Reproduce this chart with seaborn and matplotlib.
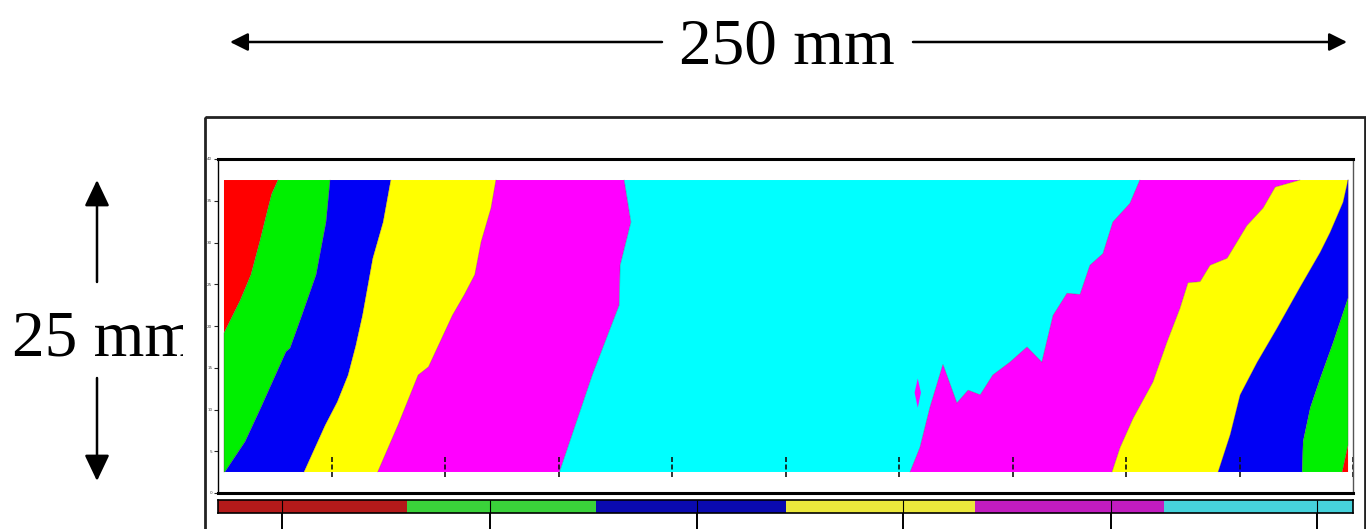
import numpy as np
import matplotlib
matplotlib.use('Agg')
import matplotlib.pyplot as plt
import seaborn as sns
from matplotlib.colors import ListedColormap
from matplotlib.transforms import Bbox

# Plate is 250 mm x 25 mm. Each boundary traced from top (y=25) down to bottom (y=0), in mm.
edge_left_x = [0.0, 0.0]
edge_left_y = [25.0, 0.0]

b1_x = [12.0, 10.6, 9.8, 8.0, 6.0, 3.6, 0.0, 0.0]            # red / green
b1_y = [25.0, 23.8, 22.6, 19.8, 16.9, 14.7, 11.9, 0.0]

b2_x = [23.6, 22.7, 20.5, 17.5, 14.7, 13.8, 11.0, 8.2, 4.7, 0.2]   # green / blue
b2_y = [25.0, 21.4, 16.9, 13.6, 10.6, 10.3, 7.9, 5.5, 2.6, 0.0]

b3_x = [37.1, 35.4, 33.1, 30.8, 29.3, 27.6, 25.2, 22.5, 17.8]      # blue / yellow
b3_y = [25.0, 21.4, 18.3, 13.4, 10.8, 8.3, 6.0, 4.0, 0.0]

b4_x = [60.5, 59.4, 57.2, 55.8, 53.5, 50.8, 45.5, 43.2, 38.7, 34.2]   # yellow / magenta
b4_y = [25.0, 22.6, 19.7, 16.9, 15.2, 13.4, 9.0, 8.3, 4.0, 0.0]

b5_x = [89.0, 90.5, 88.1, 87.9, 84.8, 81.9, 74.6]       # magenta / cyan
b5_y = [25.0, 21.4, 17.7, 14.3, 11.2, 8.3, 0.0]

b6_x = [203.7, 201.5, 197.7, 195.5, 192.6, 190.4, 187.5, 184.4, 181.9, 178.6,
        174.8, 171.0, 168.2, 165.5, 163.0, 159.9, 157.0, 154.8, 152.6]   # cyan / magenta
b6_y = [25.0, 23.0, 21.4, 18.7, 17.7, 15.2, 15.3, 13.4, 9.4, 10.7,
        9.4, 8.3, 6.6, 7.0, 5.9, 9.2, 5.5, 2.1, 0.0]

b7_x = [239.3, 233.8, 231.1, 227.5, 223.1, 219.3, 217.1, 214.4, 212.6, 209.7,
        206.6, 202.2, 199.3, 197.5]               # magenta / yellow
b7_y = [25.0, 24.4, 22.6, 21.1, 18.3, 17.7, 16.3, 16.2, 14.0, 11.1,
        7.7, 4.6, 2.1, 0.0]

b8_x = [250.0, 248.9, 246.0, 243.8, 239.3, 234.2, 229.8, 226.0, 223.8, 221.1]   # yellow / blue
b8_y = [25.0, 23.1, 20.5, 18.8, 15.8, 12.3, 9.4, 6.6, 3.2, 0.0]

b9_x = [250.0, 250.0, 246.7, 243.8, 241.6, 240.0, 239.8]   # blue / green
b9_y = [25.0, 14.9, 11.1, 8.0, 5.5, 2.6, 0.0]

b10_x = [250.0, 250.0, 248.7]                      # green / red
b10_y = [25.0, 2.3, 0.0]

edge_right_x = [250.0, 250.0]
edge_right_y = [25.0, 0.0]

# small magenta island inside the cyan grain
island_x = [154.3, 155.0, 154.3, 153.6]
island_y = [8.0, 6.8, 5.5, 6.8]

field_colors = ['#ff0000', '#00f000', '#0000f5', '#ffff00', '#ff00ff', '#00ffff',
                '#ff00ff', '#ffff00', '#0000f5', '#00f000', '#ff0000']

# colour key strip
key_values = [0, 1, 2, 3, 4, 5]
key_colors = ['#b41a1a', '#3ad23a', '#0a0ab0', '#ece83c', '#c21cc0', '#46d2dc']
key_ticks = [0.34, 1.44, 2.53, 3.62, 4.72, 5.81]

boundaries = [
    (edge_left_x, edge_left_y), (b1_x, b1_y), (b2_x, b2_y), (b3_x, b3_y),
    (b4_x, b4_y), (b5_x, b5_y), (b6_x, b6_y), (b7_x, b7_y),
    (b8_x, b8_y), (b9_x, b9_y), (b10_x, b10_y), (edge_right_x, edge_right_y),
]

sns.set_theme(style='white')
plt.rcParams['font.family'] = ['Liberation Serif', 'DejaVu Serif']
plt.rcParams['text.color'] = 'black'

W, H = 1366, 529
fig = plt.figure(figsize=(W / 100, H / 100), dpi=100)

# overlay in pixel units for the dimension arrows and panel frame
ov = fig.add_axes([0, 0, 1, 1], zorder=0)
ov.set_xlim(0, W)
ov.set_ylim(H, 0)
ov.axis('off')

ov.add_patch(plt.Rectangle((205, 117), 1160, 440, fill=False, lw=2, ec='#222222', clip_on=False))

harrow = dict(arrowstyle='-|>,head_length=0.4,head_width=0.2', lw=1.8, color='black',
              mutation_scale=27, shrinkA=0, shrinkB=0)
ov.annotate('', xy=(230, 42), xytext=(662, 42), arrowprops=harrow)
ov.annotate('', xy=(1347, 42), xytext=(913, 42), arrowprops=harrow)
ov.text(787, 63, '250 mm', ha='center', va='baseline', fontsize=47, color='black')

varrow = dict(arrowstyle='-|>,head_length=0.4,head_width=0.19', lw=1.8, color='black',
              mutation_scale=40, shrinkA=0, shrinkB=0)
ov.annotate('', xy=(97, 180), xytext=(97, 282), arrowprops=varrow)
ov.annotate('', xy=(97, 481), xytext=(97, 378), arrowprops=varrow)
t = ov.text(12, 355, '25 mm', ha='left', va='baseline', fontsize=47, color='black')
t.set_clip_box(Bbox.from_extents(0, 0, 183, H))
t.set_clip_on(True)

# main field
ax = fig.add_axes([218 / W, (H - 493) / H, 1135 / W, 334 / H], zorder=2)
xlo, xhi = -1.33, 251.1
ylo, yhi = -1.80, 26.8
ax.set_xlim(xlo, xhi)
ax.set_ylim(ylo, yhi)
ax.set_facecolor('white')

for i in range(len(boundaries) - 1):
    ax_, ay_ = boundaries[i]
    bx_, by_ = boundaries[i + 1]
    px = list(ax_) + list(bx_[::-1])
    py = list(ay_) + list(by_[::-1])
    ax.fill(px, py, color=field_colors[i], lw=0)
for bx_, by_ in boundaries[1:-1]:
    ax.plot(bx_, by_, color='#5a2a3a', lw=0.6, alpha=0.35)
ax.fill(island_x, island_y, color='#ff00ff', lw=0)

# small marks along the bottom of the field
marks = np.linspace(xlo, xhi, 11)[1:]
ax.vlines(marks, -0.45, 1.3, colors='#111111', lw=1.2, linestyles=(0, (3, 1.5)))

ax.set_xticks([])
ax.set_yticks(np.linspace(ylo, yhi, 9))
ax.set_yticklabels(['0', '5', '10', '15', '20', '25', '30', '35', '40'], fontsize=3,
                   color='#444444', family='DejaVu Sans')
ax.tick_params(axis='y', length=3, width=0.8, pad=1, left=True)
ax.spines['top'].set_linewidth(2.2)
ax.spines['bottom'].set_linewidth(2.2)
ax.spines['left'].set_linewidth(1.0)
ax.spines['left'].set_linestyle((0, (2, 1)))
ax.spines['right'].set_linewidth(1.0)
ax.spines['right'].set_color('#555555')
for s in ['top', 'bottom', 'left']:
    ax.spines[s].set_color('black')

# colour key
cax = fig.add_axes([218 / W, (H - 513) / H, 1135 / W, 13 / H], zorder=2)
sns.heatmap(np.array([key_values]), cmap=ListedColormap(key_colors), cbar=False,
            ax=cax, linewidths=0, vmin=-0.5, vmax=5.5)
cax.vlines(key_ticks, 0, 1, colors='black', lw=0.8)
cax.set_xticks(key_ticks)
cax.set_xticklabels([''] * len(key_ticks))
cax.set_yticks([])
cax.tick_params(axis='x', bottom=True, length=12, width=1.4, direction='out', color='black')
for s in cax.spines.values():
    s.set_visible(True)
    s.set_linewidth(1.2)
    s.set_color('black')

fig.savefig('out.png', dpi=100)
